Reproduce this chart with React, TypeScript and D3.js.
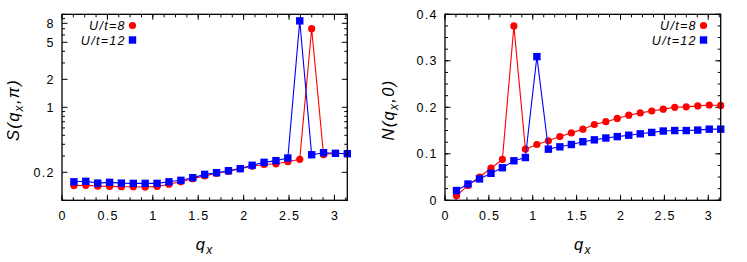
import React from "react";
import * as d3 from "d3";

// q_x = k*pi/24, k = 1..24
const qx = [0.131, 0.262, 0.393, 0.524, 0.654, 0.785, 0.916, 1.047, 1.178, 1.309, 1.44, 1.571,
  1.702, 1.833, 1.963, 2.094, 2.225, 2.356, 2.487, 2.618, 2.749, 2.88, 3.011, 3.142];

// S(q_x, pi)
const sU8 = [0.144, 0.145, 0.142, 0.141, 0.14, 0.14, 0.139, 0.141, 0.149, 0.158, 0.171, 0.183,
  0.195, 0.205, 0.219, 0.232, 0.243, 0.247, 0.26, 0.276, 7.0, 0.31, 0.32, 0.317];
const sU12 = [0.158, 0.16, 0.153, 0.156, 0.153, 0.152, 0.152, 0.152, 0.158, 0.164, 0.175, 0.19,
  0.198, 0.208, 0.219, 0.238, 0.256, 0.267, 0.285, 8.5, 0.309, 0.325, 0.32, 0.317];

// N(q_x, 0)
const nU8 = [0.01, 0.032, 0.05, 0.069, 0.088, 0.375, 0.11, 0.12, 0.128, 0.137, 0.145, 0.153,
  0.163, 0.169, 0.176, 0.183, 0.188, 0.192, 0.196, 0.2, 0.201, 0.203, 0.205, 0.204];
const nU12 = [0.021, 0.035, 0.046, 0.058, 0.07, 0.085, 0.092, 0.309, 0.11, 0.115, 0.12, 0.126,
  0.13, 0.134, 0.137, 0.14, 0.143, 0.146, 0.149, 0.15, 0.15, 0.151, 0.153, 0.153];

const xTicks = [0, 0.5, 1, 1.5, 2, 2.5, 3];
const xMinor = d3.range(0, 3.15, 0.125);
const sTicks = [0.2, 1, 2, 5, 8];
const sMinor = [0.1, 0.3, 0.4, 0.5, 0.6, 0.7, 0.8, 0.9, 3, 4, 6, 7, 9, 10];
const nTicks = [0, 0.1, 0.2, 0.3, 0.4];
const nMinor = d3.range(0, 0.401, 0.025);

const series = ["U/t=8", "U/t=12"];
const colors = ["#ff0000", "#0000ff"];
const FONT = "'Liberation Sans', Arial, sans-serif";
const LS = 1.3; // gnuplot text is set a bit wider than Arial

function Panel({ x0, x1, yScale, yTicks, yMinor, fmt, data, ylab, ysub, legendX, labelX }: any) {
  const top = 14.3, bottom = 200.3;
  const x = d3.scaleLinear().domain([0, Math.PI]).range([x0, x1]);
  const y = yScale.range([bottom, top]);
  const line = d3.line<number>().x((d, i) => x(qx[i])).y(d => y(d));
  return (
    <g>
      {/* x ticks, mirrored top */}
      {xMinor.map((t: number, i: number) => (
        <g key={"xm" + i} stroke="#000" strokeWidth={1}>
          <line x1={x(t)} x2={x(t)} y1={bottom} y2={bottom - 3} />
          <line x1={x(t)} x2={x(t)} y1={top} y2={top + 3} />
        </g>
      ))}
      {xTicks.map(t => (
        <g key={"x" + t}>
          <line x1={x(t)} x2={x(t)} y1={bottom} y2={bottom - 5.5} stroke="#000" />
          <line x1={x(t)} x2={x(t)} y1={top} y2={top + 5.5} stroke="#000" />
          <text x={x(t) + LS / 2} y={220} textAnchor="middle" fontSize={12.5} letterSpacing={LS}
            fontFamily={FONT}>{t}</text>
        </g>
      ))}
      {yMinor.map((t: number, i: number) => (
        <g key={"ym" + i} stroke="#000" strokeWidth={1}>
          <line x1={x0} x2={x0 + 3} y1={y(t)} y2={y(t)} />
          <line x1={x1} x2={x1 - 3} y1={y(t)} y2={y(t)} />
        </g>
      ))}
      {yTicks.map((t: number) => (
        <g key={"y" + t}>
          <line x1={x0} x2={x0 + 5.5} y1={y(t)} y2={y(t)} stroke="#000" />
          <line x1={x1} x2={x1 - 5.5} y1={y(t)} y2={y(t)} stroke="#000" />
          <text x={x0 - 8.5 + LS} y={y(t) + 4.6} textAnchor="end" fontSize={12.5} letterSpacing={LS}
            fontFamily={FONT}>{fmt(t)}</text>
        </g>
      ))}

      {data.map((vals: number[], s: number) => (
        <g key={"s" + s}>
          <path d={line(vals) as string} fill="none" stroke={colors[s]} strokeWidth={1.1} />
          {vals.map((v, i) =>
            s === 0 ? (
              <circle key={i} cx={x(qx[i])} cy={y(v)} r={3.6} fill={colors[s]} />
            ) : (
              <rect key={i} x={x(qx[i]) - 3.7} y={y(v) - 3.7} width={7.4} height={7.4} fill={colors[s]} />
            )
          )}
        </g>
      ))}

      {/* legend */}
      {series.map((name, s) => (
        <g key={name}>
          <text x={legendX - 8 + LS} y={25.5 + s * 14.5 + 4.5} textAnchor="end" fontSize={12.5}
            letterSpacing={LS} fontStyle="italic" fontFamily={FONT}>{name}</text>
          {s === 0 ? (
            <circle cx={legendX} cy={25.5} r={3.6} fill={colors[0]} />
          ) : (
            <rect x={legendX - 3.7} y={40 - 3.7} width={7.4} height={7.4} fill={colors[1]} />
          )}
        </g>
      ))}

      <rect x={x0} y={top} width={x1 - x0} height={bottom - top} fill="none" stroke="#000" strokeWidth={1.3} />

      {/* axis labels */}
      <text x={(x0 + x1) / 2} y={250} textAnchor="middle" fontSize={16.5} letterSpacing={LS}
        fontStyle="italic" fontFamily={FONT}>
        q<tspan dy={4} fontSize={12}>x</tspan>
      </text>
      <text transform={`translate(${labelX},110) rotate(-90)`} textAnchor="middle" fontSize={16.5}
        letterSpacing={LS} fontStyle="italic" fontFamily={FONT}>
        {ylab}(q<tspan dy={4} fontSize={12}>x</tspan><tspan dy={-4}>,{ysub})</tspan>
      </text>
    </g>
  );
}

export default function App() {
  return (
    <svg width={747} height={262} style={{ position: "absolute", left: 0, top: 0, background: "#fff" }}>
      <Panel x0={62} x1={347.3} yScale={d3.scaleLog().domain([0.1, 10])} yTicks={sTicks} yMinor={sMinor}
        fmt={(t: number) => String(t)} data={[sU8, sU12]} ylab="S" ysub="π" legendX={132.5} labelX={18.5} />
      <Panel x0={445} x1={720.7} yScale={d3.scaleLinear().domain([0, 0.4])} yTicks={nTicks} yMinor={nMinor}
        fmt={(t: number) => (t === 0 ? "0" : t.toFixed(1))} data={[nU8, nU12]} ylab="N" ysub="0"
        legendX={703.5} labelX={393.5} />
    </svg>
  );
}
